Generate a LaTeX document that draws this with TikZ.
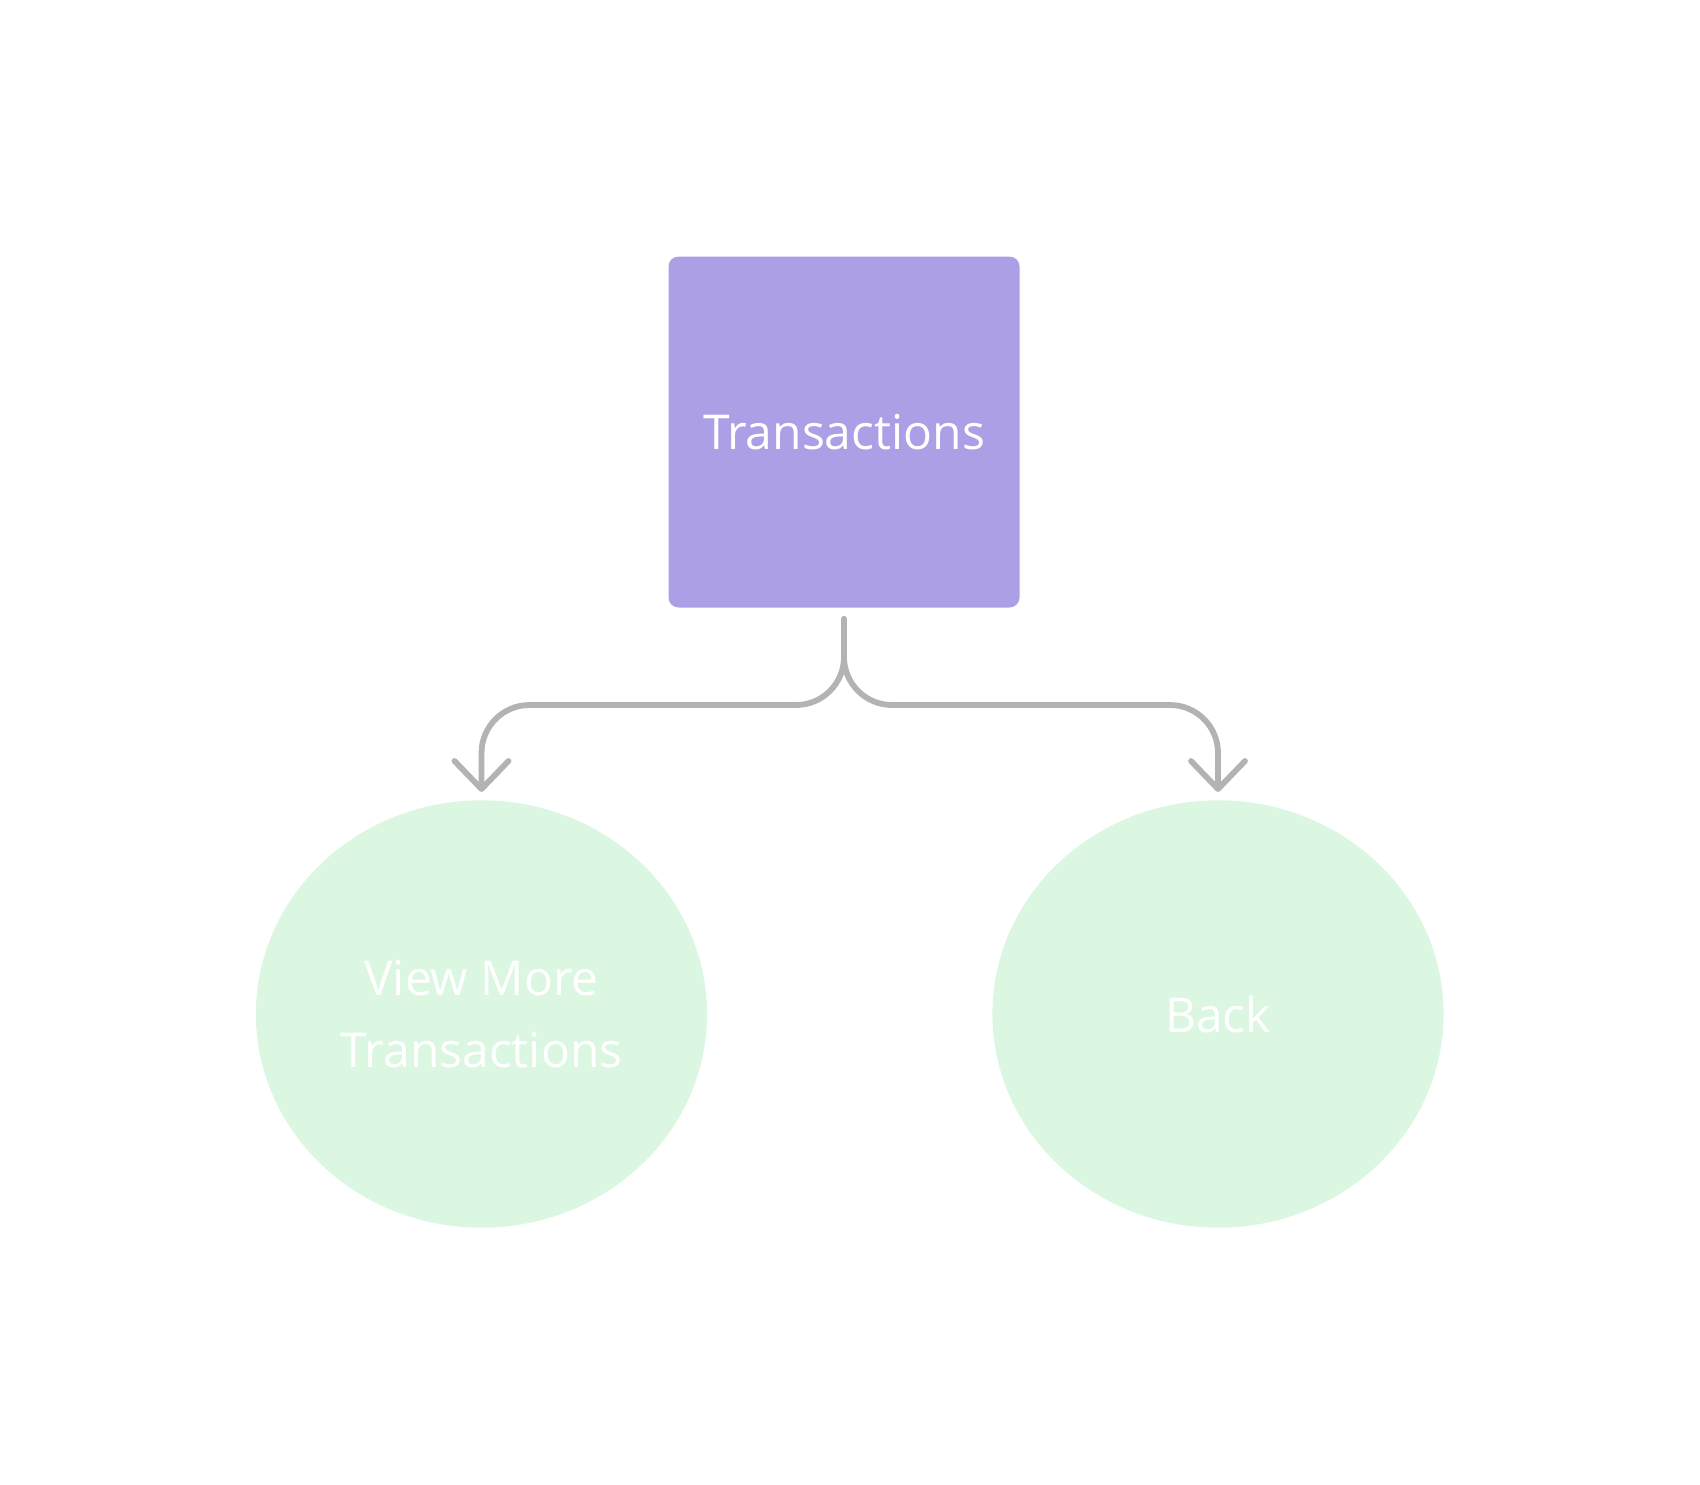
\documentclass[tikz,border=0pt]{standalone}
\usepackage{fontspec}
\setmainfont{Open Sans}
\usepackage{tikz}
\usetikzlibrary{shapes.geometric, arrows.meta, positioning}
\definecolor{screenfill}{HTML}{AC9FE6}
\definecolor{optionfill}{HTML}{DCF7E1}
\definecolor{linkgray}{HTML}{B3B3B3}
\tikzset{
    block/.style={rectangle, fill=screenfill, rounded corners=5pt, minimum width=175.5pt, minimum height=175.5pt, inner sep=0pt, text=white, font=\fontsize{24}{36.3}\selectfont, align=center},
    option/.style={ellipse, fill=optionfill, minimum width=225.6pt, minimum height=213.7pt, inner sep=0pt, text=white, font=\fontsize{24}{36.3}\selectfont, align=center},
    link/.style={draw=linkgray, line width=2.9pt, rounded corners=24pt, line cap=round, -{Straight Barb[length=14pt, width=27pt, line cap=round, line join=round]}, shorten <=5.5pt, shorten >=4pt}
}
\begin{document}
\begin{tikzpicture}[x=0.5pt, y=-0.5pt]
            \useasboundingbox (0,0) rectangle (1700,1484);
            \node[block] (transactions) at (844,432) {Transactions};
            \node[option] (viewmore) at (481.5,1014) {View More\\Transactions};
            \node[option] (back) at (1218,1014) {Back};
            \coordinate (fork) at (844,705);

            \draw[link] (transactions.south) -- (fork) -| (viewmore.north);
            \draw[link] (transactions.south) -- (fork) -| (back.north);
        \end{tikzpicture}
\end{document}
